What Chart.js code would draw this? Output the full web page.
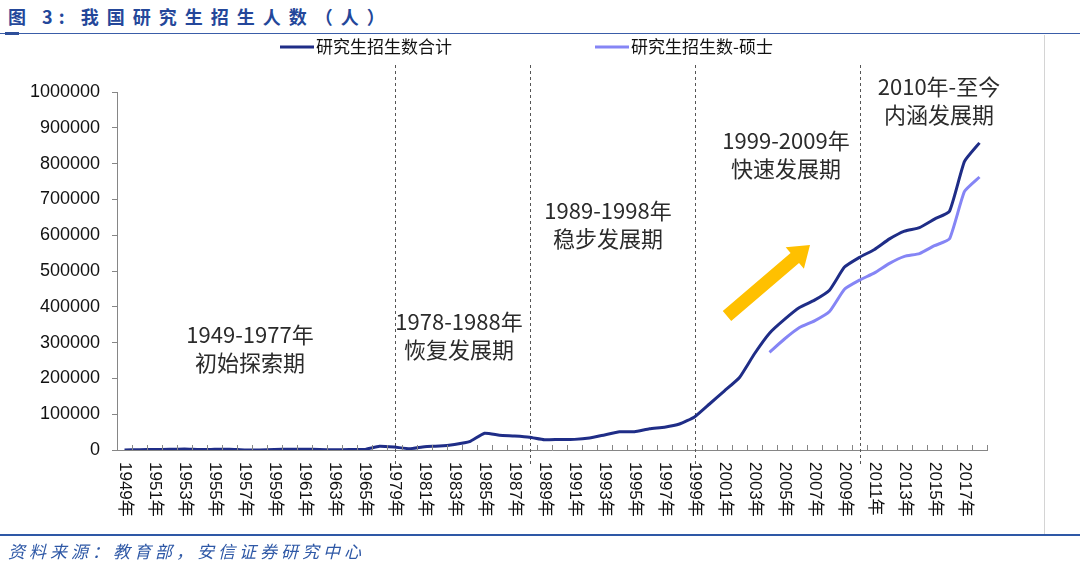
<!DOCTYPE html>
<html>
<head>
<meta charset="utf-8">
<script src="https://cdn.jsdelivr.net/npm/chart.js@4.4.0/dist/chart.umd.min.js"></script>
<style>
    html, body { margin: 0; padding: 0; background: #fff; }
    body { width: 1080px; height: 577px; position: relative; overflow: hidden; }
    #chart { position: absolute; left: 0; top: 0; }
    .title {
        position: absolute; left: 8px; top: 3px;
        font: bold 18px "Noto Sans CJK SC", sans-serif;
        letter-spacing: 8px; color: #24479a; white-space: nowrap;
    }
    .title .pre { letter-spacing: 6px; }
    .source {
        position: absolute; left: 8px; top: 538px;
        font: italic 17px "Noto Sans CJK SC", sans-serif;
        letter-spacing: 4px; color: #2e58a6; white-space: nowrap;
    }
    .rule { position: absolute; left: 0; width: 1080px; background: #3a5da8; }
    .rule-top { top: 33px; height: 1px; }
    .rule-mark { position: absolute; left: 5px; top: 32px; width: 14px; height: 3px; background: #2e4f9a; }
    .rule-bottom { top: 534px; height: 2px; background: #2e58a6; }
    .frame-right { position: absolute; left: 1044px; top: 35px; width: 1px; height: 499px; background: #d4d4d4; }
</style>
</head>
<body>
<div class="title"><span class="pre">图 3:&nbsp;</span>我国研究生招生人数（人）</div>
<div class="rule rule-top"></div>
<div class="rule-mark"></div>
<div class="frame-right"></div>
<canvas id="chart" width="1080" height="577"></canvas>
<div class="rule rule-bottom"></div>
<div class="source">资料来源：教育部，安信证券研究中心</div>

<script>
// Categories: 1949-1965, then 1978-2018 (no enrolment in between)
const years = [
    '1949年', '1950年', '1951年', '1952年', '1953年', '1954年', '1955年', '1956年', '1957年',
    '1958年', '1959年', '1960年', '1961年', '1962年', '1963年', '1964年', '1965年',
    '1978年', '1979年', '1980年', '1981年', '1982年', '1983年', '1984年', '1985年', '1986年',
    '1987年', '1988年', '1989年', '1990年', '1991年', '1992年', '1993年', '1994年', '1995年',
    '1996年', '1997年', '1998年', '1999年', '2000年', '2001年', '2002年', '2003年', '2004年',
    '2005年', '2006年', '2007年', '2008年', '2009年', '2010年', '2011年', '2012年', '2013年',
    '2014年', '2015年', '2016年', '2017年', '2018年'
];

const totalValues = [
    242, 874, 1273, 1785, 2887, 1155, 1751, 2235, 334,
    275, 1345, 2275, 2198, 1287, 781, 1240, 1456,
    10708, 8110, 3616, 9363, 11080, 15642, 23181, 46871, 41310,
    39017, 35645, 28569, 29649, 29679, 33439, 42145, 50864, 51053,
    59398, 63749, 72508, 92225, 128484, 165197, 202611, 268925, 326286,
    364831, 397925, 418612, 446422, 510953, 538177, 560168, 589673, 611381,
    621323, 645055, 667064, 806103, 857966
];

const mastersYears = [
    '2004年', '2005年', '2006年', '2007年', '2008年', '2009年', '2010年', '2011年',
    '2012年', '2013年', '2014年', '2015年', '2016年', '2017年', '2018年'
];
const mastersValues = [
    273002, 310037, 341970, 360590, 386658, 449042, 474415, 494609,
    521303, 540919, 548689, 570639, 589812, 722225, 762544
];

const yTicks = [0, 100000, 200000, 300000, 400000, 500000, 600000, 700000, 800000, 900000, 1000000];

// Dashed separators between development phases
const phaseLines = ['1979年', '1988年', '1999年', '2010年'];

const phaseNotes = [
    { lines: ['1949-1977年', '初始探索期'], x: 250, y: 335 },
    { lines: ['1978-1988年', '恢复发展期'], x: 459, y: 322 },
    { lines: ['1989-1998年', '稳步发展期'], x: 608, y: 211 },
    { lines: ['1999-2009年', '快速发展期'], x: 786, y: 141 },
    { lines: ['2010年-至今', '内涵发展期'], x: 939, y: 87 }
];

const axisColor = '#868686';
const totalColor = '#1f2d87';
const mastersColor = '#8585f5';

const overlay = {
    id: 'overlay',
    beforeDatasetsDraw(chart) {
        const { ctx, scales: { x } } = chart;
        ctx.save();
        ctx.strokeStyle = '#555';
        ctx.lineWidth = 1;
        ctx.setLineDash([3, 3]);
        phaseLines.forEach(label => {
            const px = Math.round(x.getPixelForValue(years.indexOf(label))) + 0.5;
            ctx.beginPath();
            ctx.moveTo(px, 65);
            ctx.lineTo(px, 466);
            ctx.stroke();
        });
        ctx.restore();
    },
    afterDraw(chart) {
        const { ctx, chartArea: area, scales: { x } } = chart;
        ctx.save();

        // inner tick marks on category boundaries
        ctx.strokeStyle = axisColor;
        ctx.lineWidth = 1;
        ctx.beginPath();
        for (let i = 0; i <= years.length; i++) {
            const px = Math.round(x.getPixelForValue(i - 0.5)) + 0.5;
            ctx.moveTo(px, area.bottom - 5);
            ctx.lineTo(px, area.bottom);
        }
        ctx.stroke();

        // x labels, every other year, rotated clockwise
        ctx.fillStyle = '#111';
        ctx.font = '17px "Liberation Sans", "Noto Sans CJK SC", sans-serif';
        ctx.textAlign = 'left';
        ctx.textBaseline = 'middle';
        years.forEach((label, i) => {
            if (i % 2 !== 0) return;
            ctx.save();
            ctx.translate(x.getPixelForValue(i), area.bottom + 12);
            ctx.rotate(Math.PI / 2);
            ctx.fillText(label, 0, 0);
            ctx.restore();
        });

        // phase annotations
        ctx.fillStyle = '#2b2b2b';
        ctx.font = '22px "Noto Sans CJK SC", sans-serif';
        ctx.textAlign = 'center';
        phaseNotes.forEach(note => {
            note.lines.forEach((line, k) => ctx.fillText(line, note.x, note.y + k * 28));
        });

        // trend arrow
        const tail = { x: 727, y: 316 }, tip = { x: 810, y: 245 };
        const ang = Math.atan2(tip.y - tail.y, tip.x - tail.x);
        const len = Math.hypot(tip.x - tail.x, tip.y - tail.y);
        ctx.translate(tail.x, tail.y);
        ctx.rotate(ang);
        ctx.fillStyle = '#ffc000';
        ctx.beginPath();
        ctx.moveTo(0, -6.5);
        ctx.lineTo(len - 20, -6.5);
        ctx.lineTo(len - 20, -14);
        ctx.lineTo(len, 0);
        ctx.lineTo(len - 20, 14);
        ctx.lineTo(len - 20, 6.5);
        ctx.lineTo(0, 6.5);
        ctx.closePath();
        ctx.fill();
        ctx.restore();

        // legend
        ctx.save();
        ctx.font = '17px "Noto Sans CJK SC", sans-serif';
        ctx.textAlign = 'left';
        ctx.textBaseline = 'middle';
        const legendPos = [280, 595];
        chart.data.datasets.forEach((ds, i) => {
            const lx = legendPos[i];
            ctx.strokeStyle = ds.borderColor;
            ctx.lineWidth = 3;
            ctx.beginPath();
            ctx.moveTo(lx, 47);
            ctx.lineTo(lx + 34, 47);
            ctx.stroke();
            ctx.fillStyle = '#111';
            ctx.fillText(ds.label, lx + 36, 47);
        });
        ctx.restore();
    }
};

new Chart(document.getElementById('chart'), {
    type: 'line',
    data: {
        labels: years,
        datasets: [
            {
                label: '研究生招生数合计',
                data: totalValues,
                borderColor: totalColor,
                borderWidth: 3,
                pointRadius: 0,
                tension: 0.15
            },
            {
                label: '研究生招生数-硕士',
                data: mastersYears.map((yr, i) => ({ x: yr, y: mastersValues[i] })),
                borderColor: mastersColor,
                borderWidth: 3,
                pointRadius: 0,
                tension: 0.15
            }
        ]
    },
    options: {
        responsive: false,
        animation: false,
        devicePixelRatio: 1,
        layout: { padding: { top: 92, right: 93, left: 0, bottom: 0 } },
        plugins: { legend: { display: false }, tooltip: { enabled: false } },
        scales: {
            x: {
                offset: true,
                grid: { display: false },
                border: { display: true, color: axisColor, width: 1 },
                ticks: { display: false },
                afterFit: scale => { scale.height = 127; }
            },
            y: {
                min: 0,
                max: 1000000,
                afterBuildTicks: scale => { scale.ticks = yTicks.map(v => ({ value: v })); },
                grid: { drawOnChartArea: false, drawTicks: true, tickLength: 5, color: axisColor },
                border: { display: true, color: axisColor, width: 1 },
                ticks: {
                    padding: 12,
                    color: '#111',
                    font: { family: '"Liberation Sans", Arial, sans-serif', size: 18 },
                    callback: v => String(v)
                },
                afterFit: scale => { scale.width = 117; }
            }
        }
    },
    plugins: [overlay]
});
</script>
</body>
</html>
